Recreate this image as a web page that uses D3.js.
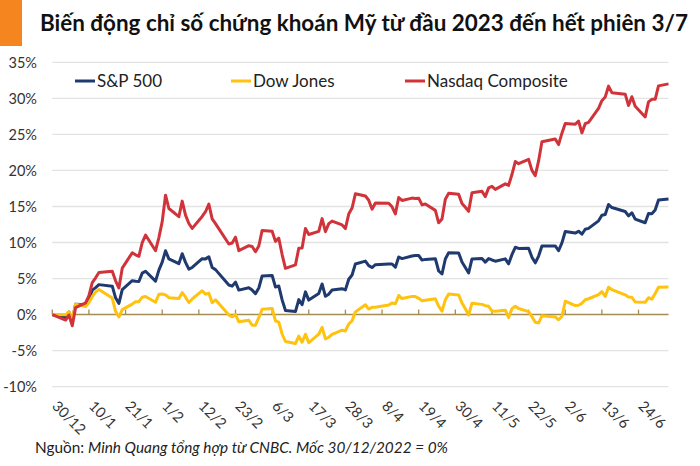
<!DOCTYPE html>
<html>
<head>
<meta charset="utf-8">
<script src="https://cdn.jsdelivr.net/npm/d3@7"></script>
<style>
  html, body { margin: 0; padding: 0; background: #fff; }
  svg { display: block; }
  text { font-family: Lato, "Open Sans", sans-serif; }
</style>
</head>
<body>
<svg id="chart" width="700" height="466"></svg>
<script>
// ---------------- DATA ----------------
const titleText = "Biến động chỉ số chứng khoán Mỹ từ đầu 2023 đến hết phiên 3/7";
const sourceLead = "Nguồn: ";
const sourceRest = "Minh Quang tổng hợp từ CNBC. Mốc 30/12/2022 = 0%";

const seriesNames = ["S&P 500", "Dow Jones", "Nasdaq Composite"];
const seriesColors = ["#1f3a6e", "#ffc20e", "#d0343a"];

const yTicks = [-10, -5, 0, 5, 10, 15, 20, 25, 30, 35];
const xTickLabels = ["30/12","10/1","21/1","1/2","12/2","23/2","6/3","17/3","28/3","8/4","19/4","30/4","11/5","22/5","2/6","13/6","24/6"];

const dates = [
 "2022-12-30",
 "2023-01-03","2023-01-04","2023-01-05","2023-01-06","2023-01-09","2023-01-10","2023-01-11","2023-01-12","2023-01-13",
 "2023-01-17","2023-01-18","2023-01-19","2023-01-20","2023-01-23","2023-01-24","2023-01-25","2023-01-26","2023-01-27","2023-01-30","2023-01-31",
 "2023-02-01","2023-02-02","2023-02-03","2023-02-06","2023-02-07","2023-02-08","2023-02-09","2023-02-10","2023-02-13","2023-02-14",
 "2023-02-15","2023-02-16","2023-02-17","2023-02-21","2023-02-22","2023-02-23","2023-02-24","2023-02-27","2023-02-28",
 "2023-03-01","2023-03-02","2023-03-03","2023-03-06","2023-03-07","2023-03-08","2023-03-09","2023-03-10","2023-03-13","2023-03-14",
 "2023-03-15","2023-03-16","2023-03-17","2023-03-20","2023-03-21","2023-03-22","2023-03-23","2023-03-24","2023-03-27","2023-03-28",
 "2023-03-29","2023-03-30","2023-03-31",
 "2023-04-03","2023-04-04","2023-04-05","2023-04-06","2023-04-10","2023-04-11","2023-04-12","2023-04-13","2023-04-14","2023-04-17",
 "2023-04-18","2023-04-19","2023-04-20","2023-04-21","2023-04-24","2023-04-25","2023-04-26","2023-04-27","2023-04-28",
 "2023-05-01","2023-05-02","2023-05-03","2023-05-04","2023-05-05","2023-05-08","2023-05-09","2023-05-10","2023-05-11","2023-05-12",
 "2023-05-15","2023-05-16","2023-05-17","2023-05-18","2023-05-19","2023-05-22","2023-05-23","2023-05-24","2023-05-25","2023-05-26",
 "2023-05-30","2023-05-31",
 "2023-06-01","2023-06-02","2023-06-05","2023-06-06","2023-06-07","2023-06-08","2023-06-09","2023-06-12","2023-06-13","2023-06-14",
 "2023-06-15","2023-06-16","2023-06-20","2023-06-21","2023-06-22","2023-06-23","2023-06-26","2023-06-27","2023-06-28","2023-06-29",
 "2023-06-30",
 "2023-07-03"
];

// % change vs 30/12/2022
const sp500 = [
 0,
 -0.40, 0.35, -0.82, 1.45, 1.37, 2.08, 3.39, 3.74, 4.16, 3.95, 2.33, 1.55, 3.47, 4.70, 4.62, 4.60, 5.75, 6.02, 4.64, 6.18,
 7.29, 8.86, 7.73, 7.07, 8.45, 7.25, 6.30, 6.54, 7.76, 7.73, 8.02, 6.53, 6.24, 4.11, 3.95, 4.50, 3.40, 3.72, 3.40,
 2.91, 3.69, 5.37, 5.44, 3.83, 3.97, 2.05, 0.58, 0.42, 2.08, 1.37, 3.15, 2.01, 2.92, 4.25, 2.54, 2.84, 3.42, 3.60, 3.43, 4.90, 5.50, 7.03,
 7.42, 6.80, 6.53, 6.92, 7.02, 7.02, 6.58, 7.99, 7.77, 8.12, 8.21, 8.20, 7.56, 7.66, 7.75, 6.05, 5.64, 7.71, 8.59,
 8.55, 7.29, 6.54, 5.77, 7.73, 7.78, 7.28, 7.77, 7.58, 7.41, 7.73, 7.04, 8.32, 9.34, 9.18, 9.20, 7.97, 7.18, 8.12, 9.53, 9.53, 8.86,
 9.94, 11.53, 11.31, 11.57, 11.15, 11.84, 11.96, 13.01, 13.79, 13.88, 15.27, 14.85, 14.30, 13.70, 14.13, 13.25, 12.74, 14.04, 14.00, 14.51, 15.91,
 16.05
];
const dowJones = [
 0,
 -0.03, 0.37, -0.66, 1.46, 1.12, 1.68, 2.49, 3.15, 3.49, 2.30, 0.45, -0.31, 0.69, 1.46, 1.77, 1.80, 2.42, 2.51, 1.72, 2.83,
 2.85, 2.74, 2.35, 2.24, 3.05, 2.42, 1.67, 2.18, 3.31, 2.84, 2.96, 1.66, 2.05, -0.05, -0.31, 0.02, -1.00, -0.78, -1.48,
 -1.46, -0.43, 0.74, 0.86, -0.88, -1.05, -2.69, -3.73, -4.01, -2.99, -3.84, -2.72, -3.88, -2.72, -1.77, -3.37, -3.14, -2.74, -2.16, -2.27, -1.30, -0.87, 0.38,
 1.37, 0.77, 1.01, 1.02, 1.33, 1.62, 1.51, 2.66, 2.23, 2.53, 2.50, 2.26, 1.93, 2.00, 2.20, 1.16, 0.47, 2.05, 2.87,
 2.73, 1.62, 0.81, -0.06, 1.59, 1.42, 1.25, 1.16, 0.49, 0.46, 0.61, -0.41, 0.83, 1.17, 0.84, 0.42, -0.28, -1.05, -1.15, -0.16, -0.32, -0.72,
 -0.26, 1.86, 1.25, 1.29, 1.56, 2.07, 2.20, 2.77, 3.21, 2.51, 3.80, 3.48, 2.74, 2.43, 2.41, 1.75, 1.71, 2.35, 2.13, 2.94, 3.80,
 3.84
];
const nasdaq = [
 0,
 -0.76, -0.07, -1.54, 0.98, 1.62, 2.64, 4.44, 5.11, 5.85, 6.01, 4.69, 3.69, 6.44, 8.58, 8.29, 8.09, 9.99, 11.04, 8.86, 10.68,
 12.90, 16.57, 14.72, 13.58, 15.74, 13.80, 12.64, 11.96, 13.62, 14.27, 15.33, 13.27, 12.62, 9.80, 9.94, 10.74, 8.87, 9.56, 9.45,
 8.72, 9.52, 11.68, 11.55, 10.16, 10.60, 8.33, 6.42, 6.90, 9.19, 9.24, 11.95, 11.12, 11.55, 13.32, 11.50, 12.62, 12.97, 12.44, 11.94, 13.95, 14.78, 16.77,
 16.46, 15.86, 14.62, 15.49, 15.46, 14.96, 13.98, 16.24, 15.83, 16.16, 16.12, 16.15, 15.22, 15.34, 14.46, 12.73, 13.26, 16.01, 16.82,
 16.68, 15.42, 14.89, 14.33, 16.90, 17.11, 16.37, 17.58, 17.79, 17.37, 18.14, 17.93, 19.43, 21.23, 20.94, 21.54, 20.00, 19.28, 21.32, 23.97, 24.37, 23.59,
 25.17, 26.51, 26.40, 26.85, 25.21, 26.48, 26.68, 28.62, 29.68, 30.19, 31.69, 30.79, 30.58, 29.00, 30.23, 28.91, 27.41, 29.51, 29.86, 29.86, 31.73,
 32.01
];
const seriesValues = [sp500, dowJones, nasdaq];

// ---------------- CHART ----------------
(function () {
const svg = d3.select("#chart");
const parse = d3.utcParse("%Y-%m-%d");
const dateObjs = dates.map(parse);

const plotLeft = 52.3, plotRight = 668.5, plotTop = 62.3, plotBottom = 386.7;
const x = d3.scaleUtc().domain([dateObjs[0], dateObjs[dateObjs.length - 1]]).range([plotLeft, plotRight]);
const y = d3.scaleLinear().domain([-10, 35]).range([plotBottom, plotTop]);

function fitWidth(sel, target) {
  const w = sel.node().getComputedTextLength();
  const fs = parseFloat(sel.attr("font-size"));
  sel.attr("font-size", (fs * target / w).toFixed(2));
}

svg.append("rect").attr("width", 700).attr("height", 466).attr("fill", "#fff");

// title block
svg.append("rect").attr("x", 0).attr("y", 0).attr("width", 22).attr("height", 46).attr("fill", "#f5861f");
const title = svg.append("text").attr("x", 40).attr("y", 31)
  .attr("font-size", 22).attr("font-weight", 700).attr("fill", "#111").text(titleText);
fitWidth(title, 648);

// gridlines
svg.append("g").selectAll("line").data(yTicks.filter(v => v !== 0)).join("line")
  .attr("x1", plotLeft).attr("x2", plotRight)
  .attr("y1", d => y(d)).attr("y2", d => y(d))
  .attr("stroke", "#e3e3e3").attr("stroke-width", 1.3);

// y labels
svg.append("g").selectAll("text").data(yTicks).join("text")
  .attr("x", 37).attr("y", d => y(d)).attr("dy", "0.36em")
  .attr("text-anchor", "end").attr("font-size", 14.5).attr("fill", "#333")
  .text(d => d + "%");

// x axis at 0%
const tickDates = xTickLabels.map(s => {
  const [dd, mm] = s.split("/").map(Number);
  return new Date(Date.UTC(mm === 12 ? 2022 : 2023, mm - 1, dd));
});
const axisColor = "#a38d52";
svg.append("line").attr("x1", plotLeft).attr("x2", plotRight).attr("y1", y(0)).attr("y2", y(0))
  .attr("stroke", axisColor).attr("stroke-width", 1.5);
svg.append("g").selectAll("line").data(tickDates).join("line")
  .attr("x1", d => x(d)).attr("x2", d => x(d))
  .attr("y1", y(0)).attr("y2", y(0) - 5)
  .attr("stroke", axisColor).attr("stroke-width", 1.3);

// x labels (rotated)
svg.append("g").selectAll("text").data(tickDates).join("text")
  .attr("transform", d => `translate(${x(d) - 1},407) rotate(45)`)
  .attr("font-size", 14.5).attr("fill", "#333")
  .text((d, i) => xTickLabels[i]);

// lines
const line = d3.line().x(d => x(d[0])).y(d => y(d[1]));
seriesValues.forEach((vals, i) => {
  svg.append("path")
    .datum(vals.map((v, j) => [dateObjs[j], v]))
    .attr("d", line)
    .attr("fill", "none")
    .attr("stroke", seriesColors[i])
    .attr("stroke-width", 3)
    .attr("stroke-linejoin", "round");
});

// legend
const legendX = [75, 231, 405];
const lg = svg.append("g");
seriesNames.forEach((name, i) => {
  lg.append("line").attr("x1", legendX[i]).attr("x2", legendX[i] + 20)
    .attr("y1", 81).attr("y2", 81).attr("stroke", seriesColors[i]).attr("stroke-width", 3);
  lg.append("text").attr("x", legendX[i] + 22).attr("y", 81).attr("dy", "0.35em")
    .attr("font-size", 17).attr("fill", "#222").text(name);
});

// source
const src = svg.append("text").attr("x", 35).attr("y", 453).attr("font-size", 14).attr("fill", "#222");
src.append("tspan").text(sourceLead);
src.append("tspan").attr("font-style", "italic").text(sourceRest);
fitWidth(src, 413);
})();
</script>
</body>
</html>
